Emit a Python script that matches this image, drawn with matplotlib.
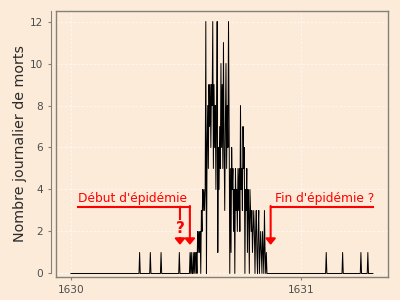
import numpy as np
import matplotlib
matplotlib.use('Agg')
import matplotlib.pyplot as plt

## ===== data : daily deaths, day 0 = 1 Jan 1630 =====
n_days = 480
early_days = [109, 126, 143, 172]      # isolated single deaths before the outbreak
late_days = [405, 431, 460, 471]       # isolated single deaths after it
epi_start = 186
epi_counts = [0, 0, 0, 1, 0, 1, 0, 0, 1, 0, 1, 0, 1, 1, 0, 2, 1, 2, 1, 2,
              0, 3, 2, 4, 3, 4, 3,
              4, 12, 0, 6, 8, 5, 9, 7, 9, 6, 9, 8, 12, 5, 9, 6, 8, 4, 7, 12,
              1, 6, 4, 7, 5, 10, 6, 9, 5, 11, 6, 3, 7, 10, 5, 8, 6, 12, 7,
              0, 5, 1, 6, 4, 5, 2, 4, 0, 5, 3, 4, 2, 5, 3, 5, 2, 8, 4, 5, 3,
              7, 5, 6, 0, 4, 3, 5, 1, 4, 3, 0, 4, 3, 2, 3, 1, 2, 3, 2, 0, 2,
              3, 1, 0, 2, 3, 0, 1, 2, 1, 0, 2, 1, 0, 3, 1, 0, 1, 0]

year_ticks = [1630, 1631]
death_ticks = [0, 2, 4, 6, 8, 10, 12]

deaths = np.zeros(n_days)
deaths[early_days] = 1
deaths[late_days] = 1
deaths[epi_start:epi_start + len(epi_counts)] = epi_counts
years = 1630 + np.arange(n_days) / 365

#==== Plot ==========
bg = '#fcebd9'
frame = '#858078'

fig = plt.figure(figsize=(4, 3), dpi=100, facecolor=bg)
ax = fig.add_axes([0.141, 0.0767, 0.829, 0.888])
ax.set_facecolor(bg)

ax.plot(years, deaths, color='black', lw=0.7, zorder=3)

ax.set_xlim(1629.937, 1631.378)
ax.set_ylim(-0.167, 12.52)
ax.set_xticks(year_ticks)
ax.set_xticklabels([str(y) for y in year_ticks])
ax.set_yticks(death_ticks)

ax.grid(True, color='white', alpha=0.7, lw=0.6, ls=(0, (3, 2)), zorder=0)

for side in ['top', 'right', 'bottom']:
    ax.spines[side].set_color(frame)
    ax.spines[side].set_linewidth(1.0)
ax.spines['left'].set_position(('outward', 4))
ax.spines['left'].set_bounds(0, 12.52)
ax.spines['left'].set_color(frame)
ax.plot([0, 0], [0, 1], transform=ax.transAxes, color=frame, lw=1.0,
        clip_on=False, zorder=4)

ax.tick_params(axis='both', colors=frame, length=2.5, width=0.8,
               labelsize=7.6, labelcolor='#4d4d4d', pad=3)
ax.set_ylabel('Nombre journalier de morts', fontsize=10.3, color='#2a2a2a',
              labelpad=2)

# annotations
red = '#ff0000'
line_y = 3.18
tip_y = 1.36
arrow_kw = dict(arrowstyle='-|>,head_width=0.3,head_length=0.36',
                color=red, lw=1.5, shrinkA=0, shrinkB=0, mutation_scale=10)

ax.plot([1630.032, 1630.517], [line_y, line_y], color=red, lw=1.5)
ax.annotate('', xy=(1630.517, tip_y), xytext=(1630.517, line_y + 0.035),
            arrowprops=arrow_kw)
ax.annotate('', xy=(1630.474, tip_y), xytext=(1630.474, line_y),
            arrowprops=arrow_kw)
ax.text(1630.474, 2.15, '?', color=red, fontsize=11, fontweight='bold',
        ha='center', va='center',
        bbox=dict(facecolor=bg, edgecolor='none', pad=0.5))
ax.text(1630.032, 3.42, "Début d'épidémie", color=red, fontsize=8.8,
        ha='left', va='baseline')

ax.plot([1630.868, 1631.312], [line_y, line_y], color=red, lw=1.5)
ax.annotate('', xy=(1630.868, tip_y), xytext=(1630.868, line_y + 0.035),
            arrowprops=arrow_kw)
ax.text(1630.887, 3.42, "Fin d'épidémie ?", color=red, fontsize=8.8,
        ha='left', va='baseline')

fig.savefig('out.png', dpi=100, facecolor=bg)
